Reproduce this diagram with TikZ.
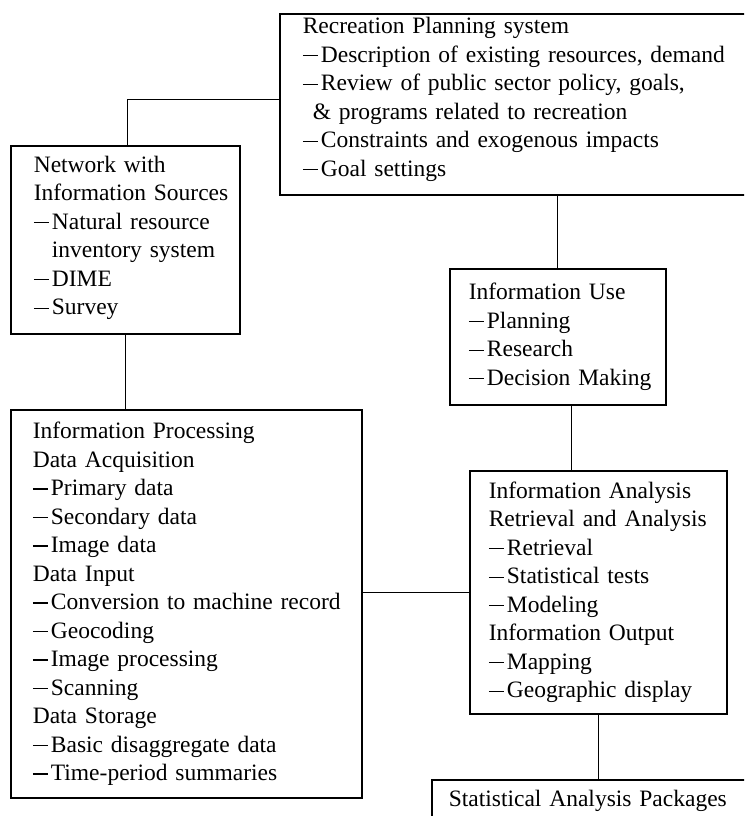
\documentclass[tikz,border=0pt]{standalone}
\usepackage{fontspec}
\setmainfont{Liberation Serif}[WordSpace=2.4]
% dash that opens each item of a list
\newcommand\itemdash{\rule[0.25em]{0.64em}{1.2pt}\hspace{0.13em}}
\newcommand\contindent{\hspace{0.77em}}
\newcommand\boxfont{\fontsize{23.5}{28.5}\selectfont}

\begin{document}
\begin{tikzpicture}[x=1pt, y=-1pt,
  infobox/.style={draw, line width=1.6pt, rectangle, anchor=north west,
    align=left, font=\boxfont, inner xsep=0pt, inner ysep=0pt,
    execute at end node={\strut}},
  lpad/.style={execute at begin node={\setlength{\leftskip}{#1}\strut}},
  link/.style={line width=1.1pt}]
\useasboundingbox (0,0) rectangle (744,816);
\clip (0,0) rectangle (744,816);

\node[infobox, text width=481pt, minimum height=178pt, lpad=23pt] (plan) at (279,13)
  {Recreation Planning system\\
   \itemdash Description of existing resources, demand\\
   \itemdash Review of public sector policy, goals,\\
   \hspace{10pt}\& programs related to recreation\\
   \itemdash Constraints and exogenous impacts\\
   \itemdash Goal settings\rule[-18.5pt]{0pt}{18.5pt}};

\node[infobox, text width=229pt, minimum height=188pt, lpad=23pt] (net) at (10,145)
  {Network with\\
   Information Sources\\
   \itemdash Natural resource\\
   \contindent inventory system\\
   \itemdash DIME\\
   \itemdash Survey\rule[-12.5pt]{0pt}{12.5pt}};

\node[infobox, text width=216pt, minimum height=136pt, lpad=19pt] (use) at (449,268)
  {Information Use\\
   \itemdash Planning\\
   \itemdash Research\\
   \itemdash Decision Making};

\node[infobox, text width=351pt, minimum height=388pt, lpad=22pt] (proc) at (10,409)
  {Information Processing\\
   Data Acquisition\\
   \itemdash Primary data\\
   \itemdash Secondary data\\
   \itemdash Image data\\
   Data Input\\
   \itemdash Conversion to machine record\\
   \itemdash Geocoding\\
   \itemdash Image processing\\
   \itemdash Scanning\\
   Data Storage\\
   \itemdash Basic disaggregate data\\
   \itemdash Time-period summaries};

\node[infobox, text width=257pt, minimum height=243pt, lpad=19pt] (ana) at (469,470)
  {Information Analysis\\
   Retrieval and Analysis\\
   \itemdash Retrieval\\
   \itemdash Statistical tests\\
   \itemdash Modeling\\
   Information Output\\
   \itemdash Mapping\\
   \itemdash Geographic display};

\node[infobox, text width=329pt, minimum height=41pt, lpad=17pt] (stat) at (431,779)
  {Statistical Analysis Packages};

% connectors
\coordinate (planleft) at ([yshift=5pt]plan.west);
\coordinate (usedrop) at ([xshift=14pt]use.south);
\draw[link] (planleft) -| ([xshift=2.5pt]net.north);
\draw[link] (use.north |- plan.south) -- (use.north);
\draw[link] (net.south) -- (net.south |- proc.north);
\draw[link] (usedrop) -- (usedrop |- ana.north);
\draw[link] (ana.west -| proc.east) -- (ana.west);
\draw[link] (ana.south) -- (ana.south |- stat.north);
\end{tikzpicture}
\end{document}
